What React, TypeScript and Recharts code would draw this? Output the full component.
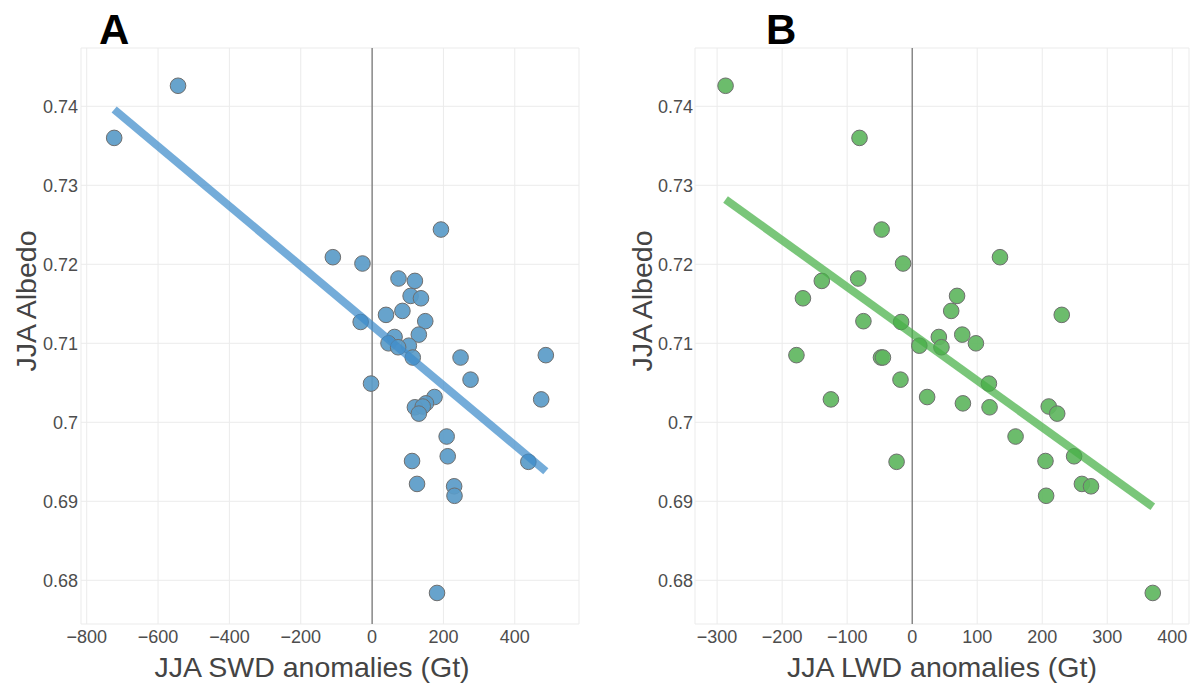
import {CartesianGrid, ReferenceLine, Scatter, ScatterChart, XAxis, YAxis} from "recharts";

// one entry per summer, same order in every array
const albedo = [0.7426, 0.7360, 0.7244, 0.7209, 0.7201, 0.7182, 0.7179, 0.7160, 0.7157, 0.7141, 0.7136, 0.7128,
    0.7127, 0.7111, 0.7108, 0.7100, 0.7097, 0.7095, 0.7085, 0.7082, 0.7082, 0.7054, 0.7049, 0.7032, 0.7029,
    0.7024, 0.7019, 0.7020, 0.7011, 0.6982, 0.6957, 0.6951, 0.6950, 0.6922, 0.6919, 0.6907, 0.6784];
const swd = [-544, -723, 193, -110, -27, 74, 120, 108, 137, 85, 39, 149, -32, 131, 63, 46, 103, 73, 487, 114, 248,
    276, -3, 175, 474, 151, 120, 142, 131, 209, 212, 112, 438, 126, 230, 231, 182];
const lwd = [-287, -81, -47, 135, -14, -83, -139, 69, -168, 60, 230, -75, -17, 77, 41, 98, 11, 45, -178, -48, -45,
    -18, 118, 23, -125, 78, 119, 210, 223, 159, 249, 205, -24, 261, 275, 206, 370];

// fitted lines, end points
const fitSwdX = [-723, 487];
const fitSwdY = [0.7396, 0.6938];
const fitLwdX = [-287, 370];
const fitLwdY = [0.7282, 0.6893];

const albedoTicks = [0.68, 0.69, 0.70, 0.71, 0.72, 0.73, 0.74];
const swdTicks = [-800, -600, -400, -200, 0, 200, 400];
const lwdTicks = [-300, -200, -100, 0, 100, 200, 300, 400];

const FONT = "'Liberation Sans', Arial, sans-serif";
const TITLE_SIZE = 28.5;

const fmtX = (v: number) => (v < 0 ? "\u2212" + Math.abs(v) : String(v));
const fmtY = (v: number) => String(Number(v.toFixed(2)));

function Panel(props: {
    xs: number[], fitX: number[], fitY: number[], ticks: number[], domain: number[],
    fill: string, lineColor: string, xTitle: string, xTitleX: number, yAxisW: number, right: number,
    tickGap: number, yTitleX: number
}) {
    const pts = props.xs.map((x, i) => ({x, y: albedo[i]}));
    const fit = props.fitX.map((x, i) => ({x, y: props.fitY[i]}));
    return (
        <ScatterChart width={599} height={683} margin={{top: 48, right: props.right, left: 0, bottom: 0}}>
            <CartesianGrid stroke="#ebebeb" strokeWidth={1} />
            <XAxis type="number" dataKey="x" domain={props.domain} ticks={props.ticks} allowDataOverflow
                   tickFormatter={fmtX} height={59} axisLine={false} tickLine={false} tickSize={0} tickMargin={6}
                   tick={{fill: "#4d4d4d", fontSize: 18, fontFamily: FONT}}
                   label={{
                       content: () => (
                           <text x={props.xTitleX} y={677} textAnchor="middle" fill="#444"
                                 fontSize={TITLE_SIZE} fontFamily={FONT}>
                               {props.xTitle}
                           </text>
                       )
                   }} />
            <YAxis type="number" dataKey="y" domain={[0.67447, 0.74738]} ticks={albedoTicks} allowDataOverflow
                   tickFormatter={fmtY} width={props.yAxisW} axisLine={false} tickLine={false} tickSize={0}
                   tickMargin={props.tickGap} tick={{fill: "#4d4d4d", fontSize: 18, fontFamily: FONT}}
                   label={{
                       content: () => (
                           <text x={props.yTitleX} y={301} transform={`rotate(-90 ${props.yTitleX} 301)`}
                                 textAnchor="middle" fill="#444" fontSize={TITLE_SIZE} fontFamily={FONT}>
                               JJA Albedo
                           </text>
                       )
                   }} />
            <ReferenceLine x={0} stroke="#555" strokeWidth={1} />
            <Scatter data={pts} isAnimationActive={false}
                     shape={(p: any) => <circle cx={p.cx} cy={p.cy} r={7.8} fill={props.fill} fillOpacity={0.92}
                                                stroke="#6e6e6e" strokeWidth={1} />} />
            <Scatter data={fit} isAnimationActive={false} line={{stroke: props.lineColor, strokeWidth: 8,
                strokeOpacity: 0.72}} lineType="joint" shape={() => <g />} />
        </ScatterChart>
    );
}

export default function App() {
    return (
        <div style={{position: "absolute", left: 0, top: 0, width: 1198, height: 683, background: "#fff",
            display: "flex"}}>
            <Panel xs={swd} fitX={fitSwdX} fitY={fitSwdY} ticks={swdTicks} domain={[-816, 580]}
                   fill="#5a9bc8" lineColor="#3f8ccb" xTitle="JJA SWD anomalies (Gt)" xTitleX={312}
                   yAxisW={81} right={20} tickGap={3} yTitleX={36} />
            <Panel xs={lwd} fitX={fitLwdX} fitY={fitLwdY} ticks={lwdTicks} domain={[-334, 425.7]}
                   fill="#5fb65f" lineColor="#47b047" xTitle="JJA LWD anomalies (Gt)" xTitleX={343}
                   yAxisW={96} right={9} tickGap={2} yTitleX={53} />
            <div style={{position: "absolute", left: 99, top: 6, fontFamily: FONT, fontWeight: "bold",
                fontSize: 42, color: "#000"}}>A</div>
            <div style={{position: "absolute", left: 766, top: 6, fontFamily: FONT, fontWeight: "bold",
                fontSize: 42, color: "#000"}}>B</div>
        </div>
    );
}
